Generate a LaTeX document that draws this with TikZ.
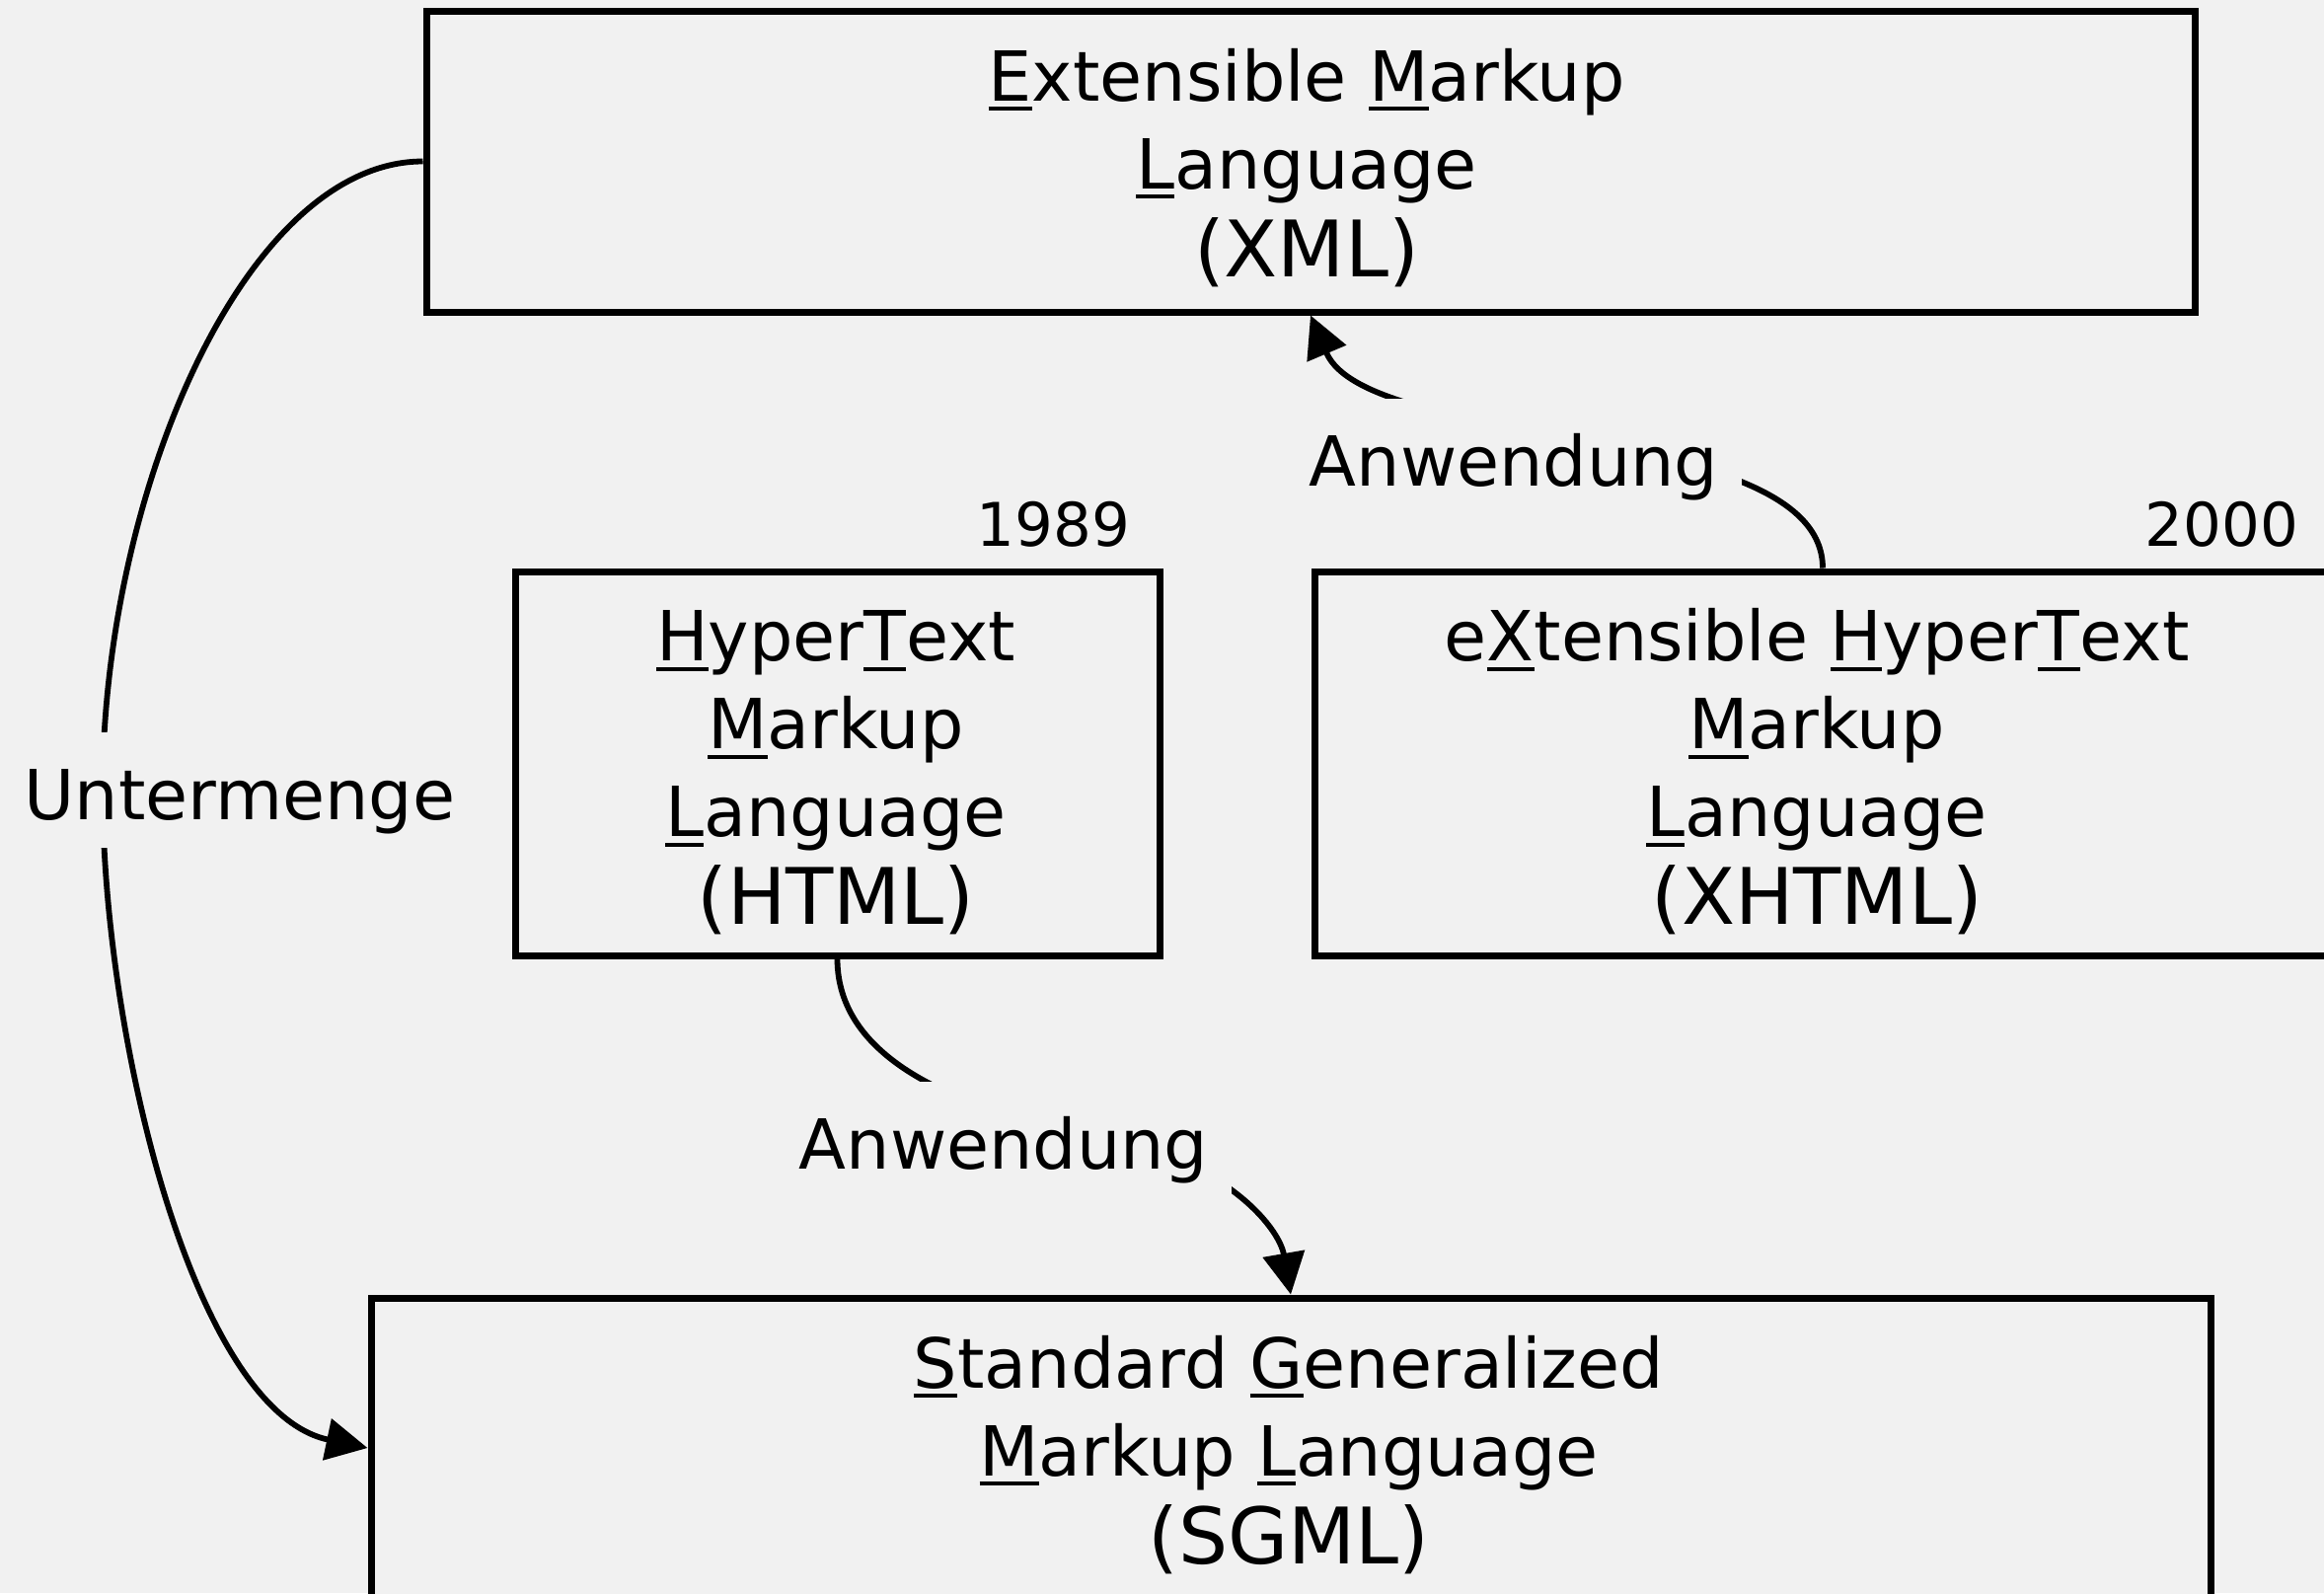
\documentclass[tikz,border=0pt]{standalone}
\usepackage{fontspec}
\setmainfont{DejaVu Sans}
\usetikzlibrary{arrows.meta}
\definecolor{bgcol}{HTML}{F1F1F1}
% underline one key letter of an acronym
\newcommand\keyletter[1]{\setbox0\hbox{#1}\rlap{\rule[-5pt]{\wd0}{2pt}}\box0}
% acronym line, set a little larger
\newcommand\acro[1]{{\fontsize{39.5}{44.5}\selectfont #1}}
\begin{document}
\begin{tikzpicture}[x=0.5pt,y=0.5pt,
  langbox/.style={draw=black, line width=3.5pt, fill=bgcol, rectangle, inner sep=0pt},
  boxtext/.style={align=center, inner sep=0pt, font=\fontsize{35}{44.5}\selectfont},
  year/.style={anchor=base east, inner sep=0pt, font=\fontsize{30.5}{36}\selectfont},
  lbl/.style={fill=bgcol, anchor=base, inner xsep=12pt, inner ysep=0pt,
              text height=44pt, text depth=14.5pt, font=\fontsize{35}{42}\selectfont},
  link/.style={line width=2.9pt, -{Triangle[length=21pt,width=21pt]}}]

\useasboundingbox (0,0) rectangle (2355,-1614);
\fill[bgcol] (0,0) rectangle (2355,-1614);

% language boxes
\node[langbox, minimum width=896pt, minimum height=152.5pt] (xml)   at (1328,-163.5) {};
\node[langbox, minimum width=326.5pt, minimum height=194.5pt] (html) at (848.5,-773.5) {};
\node[langbox, minimum width=515pt, minimum height=194.5pt] (xhtml) at (1847,-773.5) {};
\node[langbox, minimum width=932pt, minimum height=152pt] (sgml)  at (1308,-1467) {};

% box captions
\node[boxtext] (xmltxt) at (1324,-170)
  {\keyletter{E}xtensible \keyletter{M}arkup\\\keyletter{L}anguage\\\acro{(XML)}};
\node[boxtext] (htmltxt) at (847,-783)
  {\keyletter{H}yper\keyletter{T}ext\\\keyletter{M}arkup\\\keyletter{L}anguage\\\acro{(HTML)}};
\node[boxtext] (xhtmltxt) at (1841,-782)
  {e\keyletter{X}tensible \keyletter{H}yper\keyletter{T}ext\\\keyletter{M}arkup\\\keyletter{L}anguage\\\acro{(XHTML)}};
\node[boxtext] (sgmltxt) at (1306,-1474)
  {\keyletter{S}tandard \keyletter{G}eneralized\\\keyletter{M}arkup \keyletter{L}anguage\\\acro{(SGML)}};

% years of publication
\node[year] (yhtml)  at ([shift={(-33,22)}]html.north east) {1989};
\node[year] (yxhtml) at ([shift={(-36,22)}]xhtml.north east) {2000};

% relations
\coordinate (umid) at (104,-800);
\coordinate (bend) at (1100,-1147);
\draw[link] (xml.west) .. controls +(-180,0) and +(0,300) .. (umid)
  .. controls +(0,-250) and +(-176,37) .. (sgml.west);
\draw[link] (xhtml.north) .. controls +(0,150) and +(58.5,-138) .. (xml.south);
\draw[link] (html.south) .. controls +(0,-110) and +(-108,19) .. (bend)
  .. controls +(138,-24) and +(-12,69) .. (sgml.north);

% relation labels
\node[lbl] (sub)  at (243,-830)   {Untermenge};
\node[lbl] (app1) at (1534,-492)  {Anwendung};
\node[lbl] (app2) at (1017,-1184) {Anwendung};
\end{tikzpicture}
\end{document}
